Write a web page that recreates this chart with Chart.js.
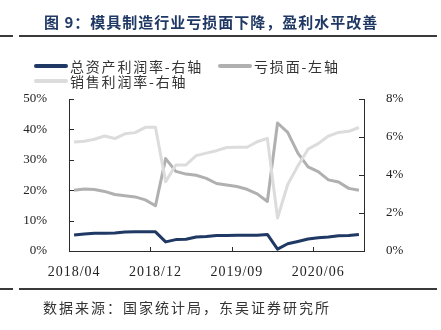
<!DOCTYPE html>
<html lang="zh-CN">
<head>
<meta charset="utf-8">
<title>模具制造行业亏损面与盈利水平</title>
<script src="https://cdn.jsdelivr.net/npm/chart.js@4.4.1/dist/chart.umd.min.js"></script>
<style>
    html, body { margin: 0; padding: 0; background: #fff; }
    #wrap { position: relative; width: 441px; height: 330px; overflow: hidden; font-family: "Noto Sans CJK SC", sans-serif; }
    #chart { position: absolute; left: 0; top: 0; }
    .fig-title { position: absolute; left: 44px; top: 12px; line-height: 20px; font-size: 15px; font-weight: bold; color: #1f3864; letter-spacing: 1px; white-space: nowrap; }
    .rule { position: absolute; height: 2px; background: #3a3a3a; }
    .legend { position: absolute; left: 34px; top: 58px; width: 345px; display: flex; flex-wrap: wrap; }
    .legend-item { display: flex; align-items: center; height: 15px; margin-right: 15px; font-size: 14px; letter-spacing: 1.8px; color: #333; white-space: nowrap; }
    .legend-swatch { width: 34px; height: 4px; border-radius: 2px; margin-right: 2px; }
    .source { position: absolute; left: 43px; top: 298px; line-height: 18px; font-size: 14px; letter-spacing: 2px; color: #333; white-space: nowrap; }
</style>
</head>
<body>
<div id="wrap">
    <canvas id="chart" width="441" height="330"></canvas>
    <div class="fig-title">图 9：模具制造行业亏损面下降，盈利水平改善</div>
    <div class="rule" style="left:0;top:35px;width:13px"></div>
    <div class="rule" style="left:19px;top:35px;width:418px"></div>
    <div class="legend" id="legend"></div>
    <div class="rule" style="left:0;top:288px;width:13px"></div>
    <div class="rule" style="left:19px;top:288px;width:418px"></div>
    <div class="source">数据来源：国家统计局，东吴证券研究所</div>
</div>
<script>
// 月度累计数据（1月不单独公布）
const MONTHS = [
    '2018/04', '2018/05', '2018/06', '2018/07', '2018/08', '2018/09', '2018/10', '2018/11', '2018/12',
    '2019/02', '2019/03', '2019/04', '2019/05', '2019/06', '2019/07', '2019/08', '2019/09', '2019/10', '2019/11', '2019/12',
    '2020/02', '2020/03', '2020/04', '2020/05', '2020/06', '2020/07', '2020/08', '2020/09', '2020/10'
];
// 总资产利润率（%，右轴）
const ROA = [0.84, 0.90, 0.93, 0.94, 0.95, 1.00, 1.01, 1.01, 1.01,
    0.48, 0.60, 0.62, 0.74, 0.76, 0.81, 0.82, 0.83, 0.83, 0.83, 0.87,
    0.10, 0.38, 0.50, 0.63, 0.70, 0.74, 0.80, 0.81, 0.87];
// 亏损面（%，左轴）
const LOSS_RATIO = [20.0, 20.4, 20.2, 19.6, 18.6, 18.2, 17.8, 16.8, 14.9,
    30.4, 26.2, 25.3, 24.9, 23.9, 22.2, 21.7, 21.2, 20.3, 18.8, 16.3,
    42.1, 39.0, 32.2, 27.7, 26.1, 23.4, 22.7, 20.6, 20.0];
// 销售利润率（%，右轴）
const MARGIN = [5.74, 5.78, 5.88, 6.05, 5.92, 6.17, 6.23, 6.51, 6.51,
    3.65, 4.53, 4.53, 5.02, 5.15, 5.28, 5.45, 5.46, 5.46, 5.75, 5.93,
    1.74, 3.50, 4.48, 5.36, 5.65, 6.05, 6.24, 6.30, 6.50];
const LEFT_TICKS = { min: 0, max: 50, step: 10 };
const RIGHT_TICKS = { min: 0, max: 8, step: 2 };
const LABEL_EVERY = 8;

const AXIS_COLOR = '#2b2b2b';
const Y_FONT = { family: '"Liberation Serif", serif', size: 13 };
const X_FONT = { family: '"Liberation Serif", serif', size: 14 };

// 刻度线朝内画（Chart.js 默认朝外）
const innerTicks = {
    id: 'innerTicks',
    afterDraw(chart) {
        const { ctx, chartArea, scales } = chart;
        ctx.save();
        ctx.strokeStyle = AXIS_COLOR;
        ctx.lineWidth = 1;
        ctx.beginPath();
        scales.y.ticks.forEach(function (t, i) {
            const y = Math.round(scales.y.getPixelForTick(i)) + 0.5;
            ctx.moveTo(chartArea.left, y);
            ctx.lineTo(chartArea.left + 5, y);
        });
        scales.y1.ticks.forEach(function (t, i) {
            const y = Math.round(scales.y1.getPixelForTick(i)) + 0.5;
            ctx.moveTo(chartArea.right - 5, y);
            ctx.lineTo(chartArea.right, y);
        });
        for (let i = LABEL_EVERY; i < MONTHS.length; i += LABEL_EVERY) {
            const x = Math.round(scales.x.getPixelForValue(i - 0.5)) + 0.5;
            ctx.moveTo(x, chartArea.bottom);
            ctx.lineTo(x, chartArea.bottom - 4);
        }
        ctx.stroke();
        ctx.restore();
    }
};

// 横轴日期字距稍宽一些
const spacedDates = {
    id: 'spacedDates',
    beforeDraw(chart) {
        const sx = chart.scales.x;
        if (sx.$spaced) return;
        const drawLabels = sx.drawLabels;
        sx.drawLabels = function (area) {
            this.ctx.save();
            this.ctx.letterSpacing = '1px';
            drawLabels.call(this, area);
            this.ctx.restore();
        };
        sx.$spaced = true;
    }
};

function line(label, data, color, axis, order) {
    return {
        label: label,
        data: data,
        yAxisID: axis,
        order: order,
        borderColor: color,
        backgroundColor: color,
        borderWidth: 3,
        borderJoinStyle: 'round',
        pointRadius: 0,
        tension: 0
    };
}

const chart = new Chart(document.getElementById('chart'), {
    type: 'line',
    data: {
        labels: MONTHS,
        datasets: [
            line('总资产利润率-右轴', ROA, '#1f3864', 'y1', 1),
            line('亏损面-左轴', LOSS_RATIO, '#b0b0b0', 'y', 2),
            line('销售利润率-右轴', MARGIN, '#dcdcdc', 'y1', 0)
        ]
    },
    options: {
        responsive: false,
        animation: false,
        layout: { padding: { top: 99, bottom: 49, left: 0, right: 0 } },
        plugins: { legend: { display: false }, tooltip: { enabled: false } },
        scales: {
            x: {
                offset: true,
                grid: { display: false },
                border: { display: true, color: AXIS_COLOR, width: 1 },
                ticks: {
                    autoSkip: false,
                    maxRotation: 0,
                    padding: 5,
                    color: '#222',
                    font: X_FONT,
                    callback: function (v, i) { return i % LABEL_EVERY === 0 ? MONTHS[i] : ''; }
                },
                afterFit: function (s) { s.height = 30; }
            },
            y: {
                position: 'left',
                min: LEFT_TICKS.min,
                max: LEFT_TICKS.max,
                grid: { display: false },
                border: { display: true, color: AXIS_COLOR, width: 1 },
                ticks: {
                    stepSize: LEFT_TICKS.step,
                    padding: 14,
                    color: '#222',
                    font: Y_FONT,
                    callback: function (v) { return v + '%'; }
                },
                afterFit: function (s) { s.width = 69; }
            },
            y1: {
                position: 'right',
                min: RIGHT_TICKS.min,
                max: RIGHT_TICKS.max,
                grid: { display: false },
                border: { display: true, color: AXIS_COLOR, width: 1 },
                ticks: {
                    stepSize: RIGHT_TICKS.step,
                    padding: 14,
                    color: '#222',
                    font: Y_FONT,
                    callback: function (v) { return v + '%'; }
                },
                afterFit: function (s) { s.width = 77; }
            }
        }
    },
    plugins: [innerTicks, spacedDates]
});

// 图例：放在绘图区上方，第三项换行
const legend = document.getElementById('legend');
chart.data.datasets.forEach(function (ds) {
    const item = document.createElement('div');
    item.className = 'legend-item';
    const sw = document.createElement('span');
    sw.className = 'legend-swatch';
    sw.style.background = ds.borderColor;
    const txt = document.createElement('span');
    txt.textContent = ds.label;
    item.append(sw, txt);
    legend.appendChild(item);
});
</script>
</body>
</html>
